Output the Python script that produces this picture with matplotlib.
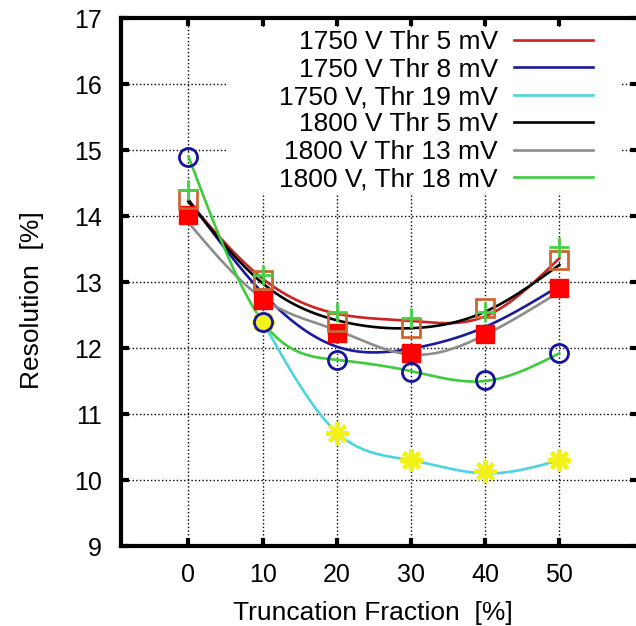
import numpy as np
import matplotlib
matplotlib.use("Agg")
import matplotlib.pyplot as plt
from matplotlib.patches import Rectangle

plt.rcParams['font.family'] = ['Liberation Sans', 'DejaVu Sans']

# truncation fraction (%)
trunc = [0, 10, 20, 30, 40, 50]
trunc_cyan = [10, 20, 30, 40, 50]

# smooth curves (values read at each truncation point)
line_1750_5 = [14.22, 13.05, 12.52, 12.41, 12.48, 13.36]
line_1750_8 = [14.25, 12.83, 12.02, 11.99, 12.32, 12.94]
line_1750_19 = [12.40, 10.72, 10.30, 10.10, 10.30]
line_1800_5 = [14.22, 12.98, 12.42, 12.30, 12.55, 13.26]
line_1800_13 = [13.90, 12.75, 12.27, 11.90, 12.20, 12.85]
line_1800_18 = [14.90, 12.40, 11.82, 11.65, 11.50, 11.92]

# measured points
pts_open_sq = [14.26, 13.03, 12.40, 12.30, 12.60, 13.33]
pts_red_sq = [14.02, 12.73, 12.23, 11.92, 12.21, 12.91]
pts_circle = [14.90, 12.40, 11.82, 11.63, 11.52, 11.92]
pts_star = [12.40, 10.71, 10.30, 10.13, 10.30]
pts_plus = [14.39, 13.10, 12.55, 12.45, 12.55, 13.53]

labels = ["1750 V Thr 5 mV", "1750 V Thr 8 mV", "1750 V, Thr 19 mV",
          "1800 V Thr 5 mV", "1800 V Thr 13 mV", "1800 V, Thr 18 mV"]


def csplines(x, y, n=300):
    # natural cubic spline, like gnuplot "smooth csplines"
    x = np.asarray(x, float)
    y = np.asarray(y, float)
    h = np.diff(x)
    m = len(x)
    A = np.zeros((m, m))
    b = np.zeros(m)
    A[0, 0] = A[-1, -1] = 1
    for i in range(1, m - 1):
        A[i, i - 1] = h[i - 1]
        A[i, i] = 2 * (h[i - 1] + h[i])
        A[i, i + 1] = h[i]
        b[i] = 3 * ((y[i + 1] - y[i]) / h[i] - (y[i] - y[i - 1]) / h[i - 1])
    c = np.linalg.solve(A, b)
    bb = (y[1:] - y[:-1]) / h - h * (2 * c[:-1] + c[1:]) / 3
    d = (c[1:] - c[:-1]) / (3 * h)
    xs = np.linspace(x[0], x[-1], n)
    k = np.clip(np.searchsorted(x, xs) - 1, 0, m - 2)
    t = xs - x[k]
    ys = y[k] + bb[k] * t + c[k] * t ** 2 + d[k] * t ** 3
    return xs, ys


fig = plt.figure(figsize=(6.36, 6.26), dpi=100)
ax = fig.add_axes([121 / 636, 80 / 626, 517 / 636, 528 / 626])

series = [
    (trunc, line_1750_5, "#cc2222"),
    (trunc, line_1750_8, "#1a1a9e"),
    (trunc_cyan, line_1750_19, "#4cd4e0"),
    (trunc, line_1800_5, "black"),
    (trunc, line_1800_13, "#8c8c8c"),
    (trunc, line_1800_18, "#3ccc3c"),
]
handles = []
for (xv, yv, col), lab in zip(series, labels):
    xs, ys = csplines(xv, yv)
    h, = ax.plot(xs, ys, color=col, lw=1.9, label=lab, zorder=3)
    handles.append(h)

ax.plot(trunc, pts_red_sq, ls='none', marker='s', ms=13, color='#ff0000', zorder=4)
ax.plot(trunc, pts_open_sq, ls='none', marker='s', ms=13, mfc='none',
        mec='#cc6633', mew=2, zorder=5)
ax.plot(trunc, pts_circle, ls='none', marker='o', ms=13, mfc='none',
        mec='#1414a0', mew=2, zorder=5)
ax.plot(trunc_cyan, pts_star, ls='none', marker=(8, 2, 0), ms=16,
        mec='#f2f21a', mew=3, zorder=4)
ax.plot(trunc, pts_plus, ls='none', marker='+', ms=14, mec='#44d044', mew=2,
        zorder=6)

ax.set_xlim(-9.1, 60.6)
ax.set_ylim(9, 17)
ax.set_xticks(range(0, 51, 10))
ax.set_yticks(range(9, 18))
ax.set_axisbelow(True)
ax.grid(True, color='black', ls=':', lw=1.0)
ax.tick_params(direction='in', length=6, width=3, top=True, right=True,
               labelsize=18, pad=12, color='black')
ax.tick_params(axis='y', pad=14)
for s in ax.spines.values():
    s.set_linewidth(3)

# white key area hides the grid behind the legend
ax.add_patch(Rectangle((0.207, 0.669), 0.758, 0.314, transform=ax.transAxes,
                       facecolor='white', edgecolor='none', zorder=1))

ax.legend(handles=handles, loc='upper right', bbox_to_anchor=(0.913, 0.977),
          frameon=False, markerfirst=False, fontsize=19, handlelength=3.0,
          handletextpad=0.6, labelspacing=0.13, borderpad=0, borderaxespad=0)

ax.set_xlabel("Truncation Fraction  [%]", fontsize=19, va='center')
ax.set_ylabel("Resolution  [%]", fontsize=19, va='center')
ax.xaxis.set_label_coords(0.487, -0.127)
ax.yaxis.set_label_coords(-0.172, 0.466)

fig.savefig("out.png", dpi=100)
